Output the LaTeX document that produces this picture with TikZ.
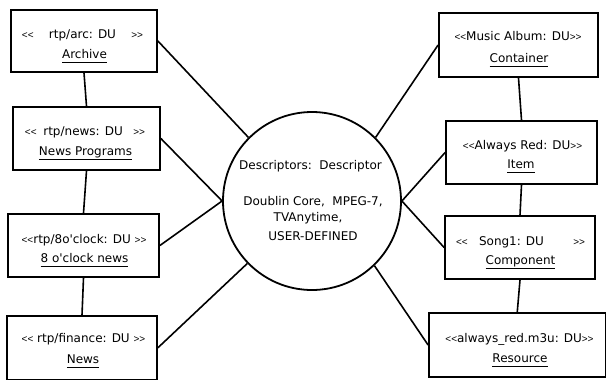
\documentclass[tikz,border=0pt]{standalone}
\usepackage{fontspec}
\setmainfont{DejaVu Sans}
\newfontfamily\ltfont{Liberation Sans}
\newcommand\LL{{\ltfont\fontsize{10bp}{10bp}\selectfont<<}}
\newcommand\GG{{\ltfont\fontsize{10bp}{10bp}\selectfont>>}}
\newcommand\ulname[1]{\setbox0\hbox{#1}\leavevmode\rlap{\rule[-4.5bp]{\wd0}{1bp}}\box0}
\tikzset{
  dubox/.style={draw, rectangle, line width=1.8bp, inner sep=0pt},
  hub/.style={draw, circle, line width=1.8bp, inner sep=0pt, minimum size=178bp},
  txt/.style={anchor=base, inner sep=0pt, font=\fontsize{12bp}{14bp}\selectfont},
  link/.style={line width=1.6bp}
}
\begin{document}
\begin{tikzpicture}[x=1bp,y=-1bp]
\useasboundingbox (0,0) rectangle (607,381);
% boxes
\node[dubox, minimum width=146bp, minimum height=62bp] (arc) at (84,41) {};
\node[dubox, minimum width=147bp, minimum height=63bp] (np) at (86.5,138.5) {};
\node[dubox, minimum width=151bp, minimum height=63bp] (oc) at (83.5,245.5) {};
\node[dubox, minimum width=150bp, minimum height=63.5bp] (fin) at (82,347.75) {};
\node[dubox, minimum width=159bp, minimum height=64bp] (cont) at (518.5,45) {};
\node[dubox, minimum width=151bp, minimum height=63bp] (item) at (521.5,152.5) {};
\node[dubox, minimum width=150bp, minimum height=63bp] (comp) at (520,247.5) {};
\node[dubox, minimum width=176.5bp, minimum height=64bp] (res) at (517.25,345) {};
% hub
\node[hub] (hub) at (312,201) {};
% texts
\node[txt] (arcS) at (82.5,38) {\makebox[121bp]{\LL\hfill\mbox{rtp/arc: DU}\hfill\GG}};
\node[txt] (arcN) at (84.5,58) {\ulname{Archive}};
\node[txt] (npS) at (85,135) {\makebox[120bp]{\LL\hspace{\stretch{7}}\mbox{rtp/news: DU}\hspace{\stretch{11}}\GG}};
\node[txt] (npN) at (85.5,155) {\ulname{News Programs}};
\node[txt] (ocS) at (84,243) {\LL rtp/8o\textquotesingle clock: DU \GG};
\node[txt] (ocN) at (84.5,262) {\ulname{8 o\textquotesingle clock news}};
\node[txt] (finS) at (83.5,342) {\LL{} rtp/finance: DU \GG};
\node[txt] (finN) at (83,363) {\ulname{News}};
\node[txt] (contS) at (518,40) {\LL Music Album: DU\GG};
\node[txt] (contN) at (519,62) {\ulname{Container}};
\node[txt] (itemS) at (522.5,149) {\LL Always Red: DU\GG};
\node[txt] (itemN) at (521,168) {\ulname{Item}};
\node[txt] (compS) at (520.5,245) {\makebox[129bp]{\LL\hspace{\stretch{12}}\mbox{Song1: DU}\hspace{\stretch{31}}\GG}};
\node[txt] (compN) at (520.5,264) {\ulname{Component}};
\node[txt] (resS) at (519.5,342) {\LL always\_red.m3u: DU\GG};
\node[txt] (resN) at (520,362) {\ulname{Resource}};
\node[txt] (h1) at (310.5,169) {Descriptors:\ \ Descriptor};
\node[txt] (h2) at (313,205) {Doublin Core,\ \ MPEG-7,};
\node[txt] (h3) at (308,221.5) {TVAnytime,};
\node[txt] (h4) at (313,240.5) {USER-DEFINED};
% vertical links
\draw[link] (arc.south) -- (np.north);
\draw[link] (np.south) -- (oc.north);
\draw[link] (oc.south) -- (fin.north);
\draw[link] (cont.south) -- (item.north);
\draw[link] (item.south) -- (comp.north);
\draw[link] (comp.south) -- (res.north);
% hub links
\draw[link] (arc.east) -- (hub.135.4);
\draw[link] (np.east) -- (hub.west);
\draw[link] (oc.east) -- (hub.west);
\draw[link] (fin.east) -- (hub.224.6);
\draw[link] (cont.west) -- (hub.45);
\draw[link] (item.west) -- (hub.east);
\draw[link] (comp.west) -- (hub.east);
\draw[link] (res.west) -- (hub.314.1);
\end{tikzpicture}
\end{document}
